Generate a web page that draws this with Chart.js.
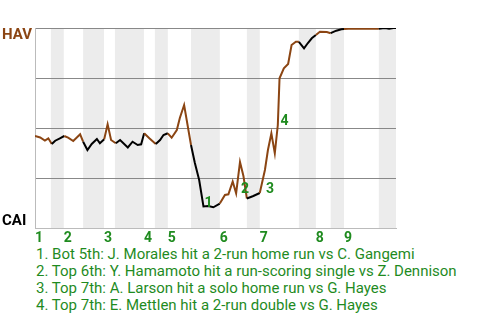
<!doctype html>
<html>
  <head>
    <meta charset="UTF-8">
    <title>HAV @ CAI win probability</title>
    <script src="https://cdn.jsdelivr.net/npm/chart.js@4.4.1/dist/chart.umd.min.js"></script>
    <style>
      html, body { margin: 0; padding: 0; background: #fff; }
      #wrap { position: relative; width: 480px; height: 320px; overflow: hidden; }
      #chart-box { position: absolute; left: 0; top: 0; width: 480px; height: 245px; }
      #plays { position: absolute; left: 36px; top: 246px; margin: 0; padding: 0; list-style: none;
               font: 15px Roboto, sans-serif; line-height: 17px; color: #1f8b1f; white-space: nowrap; }
    </style>
  </head>
  <body>
    <div id="wrap">
      <div id="chart-box"><canvas id="wpChart"></canvas></div>
      <ul id="plays"></ul>
    </div>

    <script>
      // game progress (plate appearances) and HAV win probability in %
      var gameX = [0, 1.2, 2.3, 3.1, 3.9, 4.7, 5.8, 6.8, 7.7, 8.9, 10.5, 11.2, 12.2, 13.2, 14.4,
        15.1, 16.1, 16.9, 17.7, 18.8, 19.8, 21.6, 22.7, 23.9, 24.7, 25.4, 26.6, 28.1, 29.1, 29.9,
        30.9, 31.8, 33.0, 33.7, 34.7, 36.3, 37.2, 38.2, 39.2, 40.3, 41.5, 43.0, 44.2, 45.0, 46.0,
        46.8, 47.7, 48.5, 49.3, 50.8, 52.3, 53.5, 54.2, 55.0, 55.8, 56.5, 56.9, 57.9, 58.9, 59.7,
        60.7, 61.4, 62.6, 63.5, 64.4, 65.35, 66.3, 67.9, 68.8, 70.1, 71.3, 71.9, 72.9, 80, 81.4,
        82.4, 83.4, 84];
      var havWinPct = [46, 45.25, 43.75, 44.85, 42, 43.65, 44.85, 46, 45.15, 43.5, 46.85, 43.15, 39, 42, 44.5,
        42.35, 44.35, 51.85, 44, 42.35, 44, 40.25, 43.15, 41.5, 41.85, 47.35, 44.85, 42, 44, 46.5,
        47.35, 45.15, 49, 55, 61.5, 41.5, 32.5, 24, 10.75, 11, 10.35, 12.2, 16.5, 16.85, 23.25,
        17.35, 33, 26, 14.75, 16, 17.5, 29, 39, 47.35, 37.35, 51.5, 74.85, 79.85, 82, 91.5,
        93.15, 93.1, 89.85, 92.5, 94.85, 96.5, 98.15, 98, 97.4, 98.65, 99.35, 99.5, 99.65, 99.65, 100,
        99.6, 100, 100];

      // where each half inning starts (top 1st, bot 1st, top 2nd, ...), last value = end of game
      var halfStarts = [0, 3.7, 6.7, 11.2, 16.05, 18.6, 25.35, 27.9, 30.9, 36.3, 43, 49.3,
        52.3, 61.4, 65.35, 68.8, 71.9, 80, 84];
      var inningLabels = ['1', '2', '3', '4', '5', '6', '7', '8', '9'];

      // key plays: index into the series above and description
      var playIndex = [38, 46, 51, 56];
      var playText = [
        'Bot 5th: J. Morales hit a 2-run home run vs C. Gangemi',
        'Top 6th: Y. Hamamoto hit a run-scoring single vs Z. Dennison',
        'Top 7th: A. Larson hit a solo home run vs G. Hayes',
        'Top 7th: E. Mettlen hit a 2-run double vs G. Hayes'
      ];

      var HAV_COLOR = '#8b4513';
      var CAI_COLOR = '#000000';
      var NOTE_COLOR = '#1f8b1f';

      function halfIndex(x) {
        for (var k = 0; k < halfStarts.length - 1; k++) {
          if (x >= halfStarts[k] && x < halfStarts[k + 1]) return k;
        }
        return halfStarts.length - 2;
      }

      var inningStarts = halfStarts.filter(function(v, i){ return i % 2 == 0 && i < halfStarts.length - 1; });

      var points = gameX.map(function(x, i){ return {x: x, y: havWinPct[i]}; });

      playText.forEach(function(t, i){
        var li = document.createElement('li');
        li.textContent = (i + 1) + '. ' + t;
        document.getElementById('plays').appendChild(li);
      });

      var bandsPlugin = {
        id: 'bands',
        beforeDraw: function(chart) {
          var ctx = chart.ctx, area = chart.chartArea, xs = chart.scales.x;
          ctx.save();
          ctx.fillStyle = '#ececec';
          for (var k = 1; k < halfStarts.length - 1; k += 2) {
            var x0 = xs.getPixelForValue(halfStarts[k]);
            var x1 = xs.getPixelForValue(halfStarts[k + 1]);
            ctx.fillRect(x0, area.top, x1 - x0, area.bottom - area.top);
          }
          ctx.restore();
        }
      };

      var notesPlugin = {
        id: 'notes',
        afterDraw: function(chart) {
          var ctx = chart.ctx, area = chart.chartArea;
          var xs = chart.scales.x, ys = chart.scales.y;
          ctx.save();
          ctx.font = 'bold 15px Roboto, sans-serif';
          ctx.textBaseline = 'middle';
          ctx.textAlign = 'left';
          ctx.fillStyle = HAV_COLOR;
          ctx.fillText('HAV', 2, area.top + 7);
          ctx.fillStyle = CAI_COLOR;
          ctx.fillText('CAI', 2, area.bottom - 7);

          ctx.font = 'bold 14px Roboto, sans-serif';
          ctx.fillStyle = NOTE_COLOR;
          ctx.textBaseline = 'alphabetic';
          playIndex.forEach(function(idx, i){
            var px = xs.getPixelForValue(gameX[idx]);
            var py = Math.max(ys.getPixelForValue(havWinPct[idx]), ys.getPixelForValue(havWinPct[idx - 1]));
            ctx.fillText(String(i + 1), px + 1, py);
          });
          ctx.restore();
        }
      };

      var ctx = document.getElementById('wpChart');
      var wpChart = new Chart(ctx, {
        type: 'line',
        data: {
          datasets: [{
            data: points,
            borderWidth: 2,
            pointRadius: 0,
            tension: 0,
            borderColor: HAV_COLOR,
            segment: {
              borderColor: function(c) {
                var mid = (c.p0.parsed.x + c.p1.parsed.x) / 2;
                return halfIndex(mid) % 2 == 0 ? HAV_COLOR : CAI_COLOR;
              }
            }
          }]
        },
        options: {
          responsive: true,
          maintainAspectRatio: false,
          animation: false,
          layout: { padding: { left: 35, right: 84, top: 28, bottom: 0 } },
          plugins: { legend: { display: false }, tooltip: { enabled: false } },
          scales: {
            x: {
              type: 'linear',
              min: 0,
              max: 84,
              afterBuildTicks: function(axis) {
                axis.ticks = inningStarts.map(function(v){ return {value: v}; });
              },
              afterFit: function(axis) { axis.height = 17; },
              grid: { display: false, drawTicks: false },
              border: { color: '#bbbbbb', width: 1 },
              ticks: {
                autoSkip: false,
                maxRotation: 0,
                align: 'start',
                padding: 2,
                color: NOTE_COLOR,
                font: { family: 'Roboto, sans-serif', size: 14, weight: 'bold' },
                callback: function(v, i) { return inningLabels[i]; }
              }
            },
            y: {
              min: 0,
              max: 100,
              afterFit: function(axis) { axis.width = 0; },
              ticks: { display: false, stepSize: 25 },
              grid: {
                drawTicks: false,
                color: function(c) { return c.tick.value == 0 ? 'rgba(0,0,0,0)' : '#888888'; }
              },
              border: { color: '#bbbbbb', width: 1 }
            }
          }
        },
        plugins: [bandsPlugin, notesPlugin]
      });
    </script>
  </body>
</html>
